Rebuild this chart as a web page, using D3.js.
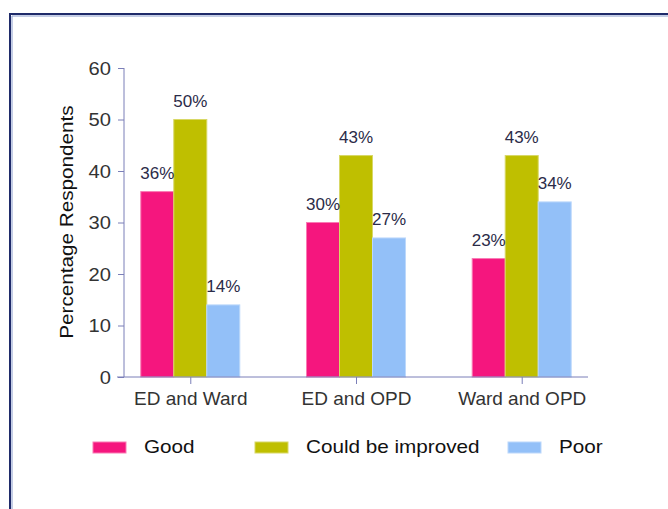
<!DOCTYPE html>
<html>
<head>
<meta charset="utf-8">
<script src="https://cdn.jsdelivr.net/npm/d3@7"></script>
<style>
  body { margin: 0; background: #fff; }
  svg { display: block; font-family: "Liberation Sans", Arial, sans-serif; }
</style>
</head>
<body>
<svg id="chart" width="668" height="509"></svg>
<script>
const categories = ['ED and Ward', 'ED and OPD', 'Ward and OPD']
const seriesNames = ['Good', 'Could be improved', 'Poor']
const good = [36, 30, 23]
const couldBeImproved = [50, 43, 43]
const poor = [14, 27, 34]
const yTicks = [0, 10, 20, 30, 40, 50, 60]

const colors = ['#f5167e', '#bfbf00', '#93c0f8']
const edgeColors = ['#f97bb4', '#d8d866', '#bcd8fb']

const svg = d3.select('#chart')
const axisColor = '#7b7fb8'

// frame round the chart, runs off the right and bottom
svg.append('rect')
  .attr('x', 10).attr('y', 14)
  .attr('width', 720).attr('height', 600)
  .attr('fill', 'none')
  .attr('stroke', '#1f2b6a')
  .attr('stroke-width', 2)
svg.append('path')
  .attr('d', 'M12,700 V16 H740')
  .attr('fill', 'none')
  .attr('stroke', '#8a9ccc')
  .attr('stroke-width', 1)

const y = d3.scaleLinear().domain([0, 60]).range([377, 68])
const x = d3.scalePoint().domain(categories).range([124, 588]).padding(0.4)
const inner = d3.scaleBand().domain(seriesNames).range([-49.5, 49.5])

const rows = categories.map((c, i) => ({
  category: c,
  values: [good[i], couldBeImproved[i], poor[i]]
}))

// bars
const groups = svg.append('g')
  .selectAll('g')
  .data(rows)
  .join('g')
  .attr('transform', (d) => `translate(${x(d.category)},0)`)

groups.selectAll('rect')
  .data((d) => d.values.map((v, j) => ({ v, j })))
  .join('rect')
  .attr('x', (d) => inner(seriesNames[d.j]))
  .attr('y', (d) => y(d.v))
  .attr('width', inner.bandwidth())
  .attr('height', (d) => y(0) - y(d.v))
  .attr('fill', (d) => colors[d.j])
  .attr('stroke', (d) => edgeColors[d.j])
  .attr('stroke-width', 1)

groups.selectAll('text')
  .data((d) => d.values.map((v, j) => ({ v, j })))
  .join('text')
  .attr('x', (d) => inner(seriesNames[d.j]) + inner.bandwidth() / 2)
  .attr('y', (d) => y(d.v) - 13)
  .attr('text-anchor', 'middle')
  .attr('font-size', 17)
  .attr('fill', '#2b2b48')
  .text((d) => d.v + '%')

// y axis
const yAxis = svg.append('g')
  .attr('transform', 'translate(124,0)')
  .call(d3.axisLeft(y).tickValues(yTicks).tickSize(6).tickPadding(8).tickFormat(d3.format('d')))
yAxis.select('.domain').attr('stroke', axisColor).attr('d', `M0,${y(60)}V${y(0)}`)
yAxis.selectAll('.tick line').attr('stroke', axisColor)
yAxis.selectAll('.tick text').remove()
yAxis.selectAll('.tick').append('text')
  .attr('transform', 'translate(-13,0) scale(1.12,1)')
  .attr('text-anchor', 'end')
  .attr('dy', '0.35em')
  .attr('font-size', 18)
  .attr('fill', '#333')
  .text((d) => d)

// x axis
const xAxis = svg.append('g')
  .attr('transform', `translate(0,${y(0)})`)
  .call(d3.axisBottom(x).tickSize(7).tickPadding(8))
xAxis.select('.domain').attr('stroke', axisColor).attr('d', 'M117,0H588')
xAxis.selectAll('.tick line').attr('stroke', axisColor)
xAxis.selectAll('.tick text')
  .attr('font-size', 19)
  .attr('fill', '#333')
  .attr('dy', null)
  .attr('y', 28)

// axis title
svg.append('text')
  .attr('transform', 'translate(73,222) rotate(-90) scale(1.15,1)')
  .attr('text-anchor', 'middle')
  .attr('font-size', 18)
  .attr('fill', '#111')
  .text('Percentage Respondents')

// legend
const legendX = [93, 255, 508]
const legend = svg.append('g')
  .selectAll('g')
  .data(seriesNames)
  .join('g')
  .attr('transform', (d, i) => `translate(${legendX[i]},442)`)

legend.append('rect')
  .attr('width', 33).attr('height', 11)
  .attr('fill', (d, i) => colors[i])
  .attr('stroke', (d, i) => edgeColors[i])

legend.append('text')
  .attr('transform', 'translate(51,11) scale(1.15,1)')
  .attr('font-size', 18)
  .attr('fill', '#111')
  .text((d) => d)
</script>
</body>
</html>
